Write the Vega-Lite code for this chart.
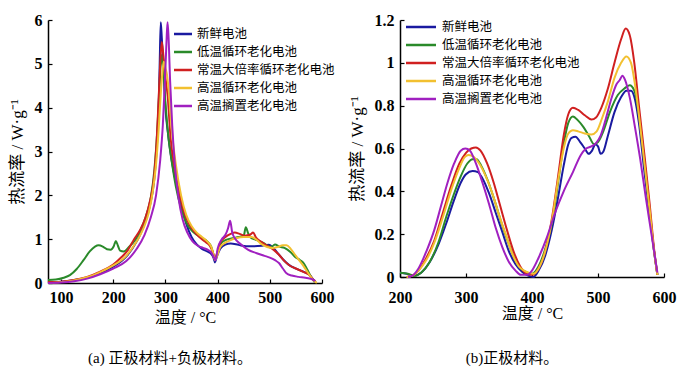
{
"$schema": "https://vega.github.io/schema/vega-lite/v6.json",
"background": "white",
"padding": {"left": 8, "top": 12, "right": 5, "bottom": 5},
"datasets": {
"a": [
{"s":"新鲜电池","t":75,"v":0.02},{"s":"新鲜电池","t":100,"v":0.03},{"s":"新鲜电池","t":125,"v":0.07},{"s":"新鲜电池","t":150,"v":0.12},{"s":"新鲜电池","t":175,"v":0.22},{"s":"新鲜电池","t":200,"v":0.37},{"s":"新鲜电池","t":225,"v":0.6},{"s":"新鲜电池","t":245,"v":0.95},{"s":"新鲜电池","t":260,"v":1.35},{"s":"新鲜电池","t":270,"v":1.75},{"s":"新鲜电池","t":278,"v":2.3},{"s":"新鲜电池","t":283,"v":3.0},{"s":"新鲜电池","t":287,"v":4.0},{"s":"新鲜电池","t":289,"v":5.0},{"s":"新鲜电池","t":291,"v":5.95},{"s":"新鲜电池","t":293,"v":5.6},{"s":"新鲜电池","t":296,"v":5.0},{"s":"新鲜电池","t":300,"v":4.0},{"s":"新鲜电池","t":305,"v":3.4},{"s":"新鲜电池","t":312,"v":2.8},{"s":"新鲜电池","t":320,"v":2.3},{"s":"新鲜电池","t":330,"v":1.8},{"s":"新鲜电池","t":340,"v":1.35},{"s":"新鲜电池","t":350,"v":1.05},{"s":"新鲜电池","t":360,"v":0.88},{"s":"新鲜电池","t":370,"v":0.78},{"s":"新鲜电池","t":380,"v":0.72},{"s":"新鲜电池","t":388,"v":0.66},{"s":"新鲜电池","t":392,"v":0.58},{"s":"新鲜电池","t":395,"v":0.47},{"s":"新鲜电池","t":398,"v":0.58},{"s":"新鲜电池","t":405,"v":0.78},{"s":"新鲜电池","t":415,"v":0.88},{"s":"新鲜电池","t":425,"v":0.9},{"s":"新鲜电池","t":440,"v":0.87},{"s":"新鲜电池","t":455,"v":0.84},{"s":"新鲜电池","t":470,"v":0.84},{"s":"新鲜电池","t":485,"v":0.85},{"s":"新鲜电池","t":498,"v":0.87},{"s":"新鲜电池","t":508,"v":0.78},{"s":"新鲜电池","t":516,"v":0.67},{"s":"新鲜电池","t":526,"v":0.53},{"s":"新鲜电池","t":536,"v":0.42},{"s":"新鲜电池","t":546,"v":0.35},{"s":"新鲜电池","t":556,"v":0.3},{"s":"新鲜电池","t":566,"v":0.25},{"s":"新鲜电池","t":575,"v":0.2},{"s":"新鲜电池","t":582,"v":0.1},{"s":"新鲜电池","t":588,"v":0.02},
{"s":"低温循环老化电池","t":75,"v":0.07},{"s":"低温循环老化电池","t":90,"v":0.08},{"s":"低温循环老化电池","t":105,"v":0.12},{"s":"低温循环老化电池","t":117,"v":0.18},{"s":"低温循环老化电池","t":130,"v":0.32},{"s":"低温循环老化电池","t":143,"v":0.52},{"s":"低温循环老化电池","t":155,"v":0.72},{"s":"低温循环老化电池","t":165,"v":0.83},{"s":"低温循环老化电池","t":172,"v":0.86},{"s":"低温循环老化电池","t":180,"v":0.83},{"s":"低温循环老化电池","t":188,"v":0.77},{"s":"低温循环老化电池","t":195,"v":0.76},{"s":"低温循环老化电池","t":201,"v":0.84},{"s":"低温循环老化电池","t":205,"v":0.96},{"s":"低温循环老化电池","t":209,"v":0.85},{"s":"低温循环老化电池","t":213,"v":0.74},{"s":"低温循环老化电池","t":220,"v":0.72},{"s":"低温循环老化电池","t":230,"v":0.82},{"s":"低温循环老化电池","t":242,"v":0.98},{"s":"低温循环老化电池","t":252,"v":1.2},{"s":"低温循环老化电池","t":262,"v":1.5},{"s":"低温循环老化电池","t":272,"v":1.95},{"s":"低温循环老化电池","t":279,"v":2.6},{"s":"低温循环老化电池","t":284,"v":3.4},{"s":"低温循环老化电池","t":288,"v":4.3},{"s":"低温循环老化电池","t":291,"v":5.0},{"s":"低温循环老化电池","t":293,"v":5.2},{"s":"低温循环老化电池","t":296,"v":4.85},{"s":"低温循环老化电池","t":300,"v":4.1},{"s":"低温循环老化电池","t":306,"v":3.3},{"s":"低温循环老化电池","t":313,"v":2.7},{"s":"低温循环老化电池","t":320,"v":2.2},{"s":"低温循环老化电池","t":330,"v":1.7},{"s":"低温循环老化电池","t":340,"v":1.38},{"s":"低温循环老化电池","t":350,"v":1.2},{"s":"低温循环老化电池","t":360,"v":1.1},{"s":"低温循环老化电池","t":370,"v":1.02},{"s":"低温循环老化电池","t":380,"v":0.95},{"s":"低温循环老化电池","t":388,"v":0.82},{"s":"低温循环老化电池","t":392,"v":0.65},{"s":"低温循环老化电池","t":395,"v":0.53},{"s":"低温循环老化电池","t":398,"v":0.62},{"s":"低温循环老化电池","t":405,"v":0.88},{"s":"低温循环老化电池","t":415,"v":0.98},{"s":"低温循环老化电池","t":428,"v":1.02},{"s":"低温循环老化电池","t":440,"v":1.05},{"s":"低温循环老化电池","t":450,"v":1.08},{"s":"低温循环老化电池","t":454,"v":1.27},{"s":"低温循环老化电池","t":458,"v":1.15},{"s":"低温循环老化电池","t":462,"v":1.05},{"s":"低温循环老化电池","t":475,"v":0.98},{"s":"低温循环老化电池","t":490,"v":0.9},{"s":"低温循环老化电池","t":500,"v":0.82},{"s":"低温循环老化电池","t":505,"v":0.84},{"s":"低温循环老化电池","t":510,"v":0.88},{"s":"低温循环老化电池","t":518,"v":0.83},{"s":"低温循环老化电池","t":528,"v":0.8},{"s":"低温循环老化电池","t":540,"v":0.7},{"s":"低温循环老化电池","t":548,"v":0.6},{"s":"低温循环老化电池","t":558,"v":0.52},{"s":"低温循环老化电池","t":565,"v":0.45},{"s":"低温循环老化电池","t":572,"v":0.3},{"s":"低温循环老化电池","t":580,"v":0.12},{"s":"低温循环老化电池","t":586,"v":0.02},
{"s":"常温大倍率循环老化电池","t":75,"v":0.02},{"s":"常温大倍率循环老化电池","t":100,"v":0.03},{"s":"常温大倍率循环老化电池","t":125,"v":0.07},{"s":"常温大倍率循环老化电池","t":150,"v":0.14},{"s":"常温大倍率循环老化电池","t":175,"v":0.26},{"s":"常温大倍率循环老化电池","t":200,"v":0.42},{"s":"常温大倍率循环老化电池","t":215,"v":0.58},{"s":"常温大倍率循环老化电池","t":228,"v":0.75},{"s":"常温大倍率循环老化电池","t":240,"v":1.0},{"s":"常温大倍率循环老化电池","t":252,"v":1.22},{"s":"常温大倍率循环老化电池","t":262,"v":1.5},{"s":"常温大倍率循环老化电池","t":270,"v":1.85},{"s":"常温大倍率循环老化电池","t":278,"v":2.4},{"s":"常温大倍率循环老化电池","t":283,"v":3.2},{"s":"常温大倍率循环老化电池","t":287,"v":4.2},{"s":"常温大倍率循环老化电池","t":290,"v":5.0},{"s":"常温大倍率循环老化电池","t":293,"v":5.5},{"s":"常温大倍率循环老化电池","t":296,"v":5.2},{"s":"常温大倍率循环老化电池","t":300,"v":4.7},{"s":"常温大倍率循环老化电池","t":304,"v":4.3},{"s":"常温大倍率循环老化电池","t":310,"v":3.3},{"s":"常温大倍率循环老化电池","t":318,"v":2.6},{"s":"常温大倍率循环老化电池","t":326,"v":2.1},{"s":"常温大倍率循环老化电池","t":335,"v":1.65},{"s":"常温大倍率循环老化电池","t":345,"v":1.35},{"s":"常温大倍率循环老化电池","t":355,"v":1.18},{"s":"常温大倍率循环老化电池","t":365,"v":1.05},{"s":"常温大倍率循环老化电池","t":375,"v":0.95},{"s":"常温大倍率循环老化电池","t":385,"v":0.85},{"s":"常温大倍率循环老化电池","t":391,"v":0.7},{"s":"常温大倍率循环老化电池","t":395,"v":0.55},{"s":"常温大倍率循环老化电池","t":399,"v":0.68},{"s":"常温大倍率循环老化电池","t":405,"v":0.92},{"s":"常温大倍率循环老化电池","t":415,"v":1.05},{"s":"常温大倍率循环老化电池","t":425,"v":1.12},{"s":"常温大倍率循环老化电池","t":433,"v":1.15},{"s":"常温大倍率循环老化电池","t":442,"v":1.12},{"s":"常温大倍率循环老化电池","t":452,"v":1.08},{"s":"常温大倍率循环老化电池","t":462,"v":1.1},{"s":"常温大倍率循环老化电池","t":468,"v":1.15},{"s":"常温大倍率循环老化电池","t":473,"v":1.05},{"s":"常温大倍率循环老化电池","t":482,"v":0.95},{"s":"常温大倍率循环老化电池","t":495,"v":0.85},{"s":"常温大倍率循环老化电池","t":508,"v":0.75},{"s":"常温大倍率循环老化电池","t":518,"v":0.64},{"s":"常温大倍率循环老化电池","t":528,"v":0.5},{"s":"常温大倍率循环老化电池","t":538,"v":0.4},{"s":"常温大倍率循环老化电池","t":552,"v":0.32},{"s":"常温大倍率循环老化电池","t":565,"v":0.25},{"s":"常温大倍率循环老化电池","t":576,"v":0.18},{"s":"常温大倍率循环老化电池","t":583,"v":0.08},{"s":"常温大倍率循环老化电池","t":588,"v":0.02},
{"s":"高温循环老化电池","t":75,"v":0.0},{"s":"高温循环老化电池","t":100,"v":0.02},{"s":"高温循环老化电池","t":125,"v":0.06},{"s":"高温循环老化电池","t":150,"v":0.13},{"s":"高温循环老化电池","t":175,"v":0.25},{"s":"高温循环老化电池","t":200,"v":0.4},{"s":"高温循环老化电池","t":225,"v":0.62},{"s":"高温循环老化电池","t":245,"v":0.95},{"s":"高温循环老化电池","t":258,"v":1.25},{"s":"高温循环老化电池","t":268,"v":1.6},{"s":"高温循环老化电池","t":276,"v":2.1},{"s":"高温循环老化电池","t":282,"v":2.7},{"s":"高温循环老化电池","t":287,"v":3.5},{"s":"高温循环老化电池","t":291,"v":4.3},{"s":"高温循环老化电池","t":295,"v":4.9},{"s":"高温循环老化电池","t":297,"v":5.05},{"s":"高温循环老化电池","t":300,"v":4.9},{"s":"高温循环老化电池","t":303,"v":4.75},{"s":"高温循环老化电池","t":307,"v":4.3},{"s":"高温循环老化电池","t":312,"v":3.5},{"s":"高温循环老化电池","t":320,"v":2.7},{"s":"高温循环老化电池","t":330,"v":2.0},{"s":"高温循环老化电池","t":340,"v":1.55},{"s":"高温循环老化电池","t":350,"v":1.3},{"s":"高温循环老化电池","t":360,"v":1.15},{"s":"高温循环老化电池","t":370,"v":1.05},{"s":"高温循环老化电池","t":380,"v":0.95},{"s":"高温循环老化电池","t":388,"v":0.82},{"s":"高温循环老化电池","t":392,"v":0.65},{"s":"高温循环老化电池","t":395,"v":0.52},{"s":"高温循环老化电池","t":399,"v":0.62},{"s":"高温循环老化电池","t":405,"v":0.82},{"s":"高温循环老化电池","t":415,"v":0.92},{"s":"高温循环老化电池","t":425,"v":0.98},{"s":"高温循环老化电池","t":435,"v":1.02},{"s":"高温循环老化电池","t":450,"v":1.05},{"s":"高温循环老化电池","t":465,"v":1.05},{"s":"高温循环老化电池","t":475,"v":0.98},{"s":"高温循环老化电池","t":485,"v":0.88},{"s":"高温循环老化电池","t":495,"v":0.82},{"s":"高温循环老化电池","t":505,"v":0.8},{"s":"高温循环老化电池","t":515,"v":0.82},{"s":"高温循环老化电池","t":525,"v":0.86},{"s":"高温循环老化电池","t":532,"v":0.86},{"s":"高温循环老化电池","t":540,"v":0.78},{"s":"高温循环老化电池","t":548,"v":0.65},{"s":"高温循环老化电池","t":556,"v":0.52},{"s":"高温循环老化电池","t":565,"v":0.38},{"s":"高温循环老化电池","t":575,"v":0.2},{"s":"高温循环老化电池","t":583,"v":0.07},{"s":"高温循环老化电池","t":590,"v":0.0},
{"s":"高温搁置老化电池","t":75,"v":0.0},{"s":"高温搁置老化电池","t":100,"v":0.01},{"s":"高温搁置老化电池","t":125,"v":0.04},{"s":"高温搁置老化电池","t":150,"v":0.1},{"s":"高温搁置老化电池","t":175,"v":0.2},{"s":"高温搁置老化电池","t":200,"v":0.33},{"s":"高温搁置老化电池","t":225,"v":0.5},{"s":"高温搁置老化电池","t":245,"v":0.78},{"s":"高温搁置老化电池","t":260,"v":1.1},{"s":"高温搁置老化电池","t":272,"v":1.5},{"s":"高温搁置老化电池","t":282,"v":2.0},{"s":"高温搁置老化电池","t":290,"v":2.8},{"s":"高温搁置老化电池","t":295,"v":3.6},{"s":"高温搁置老化电池","t":299,"v":4.6},{"s":"高温搁置老化电池","t":302,"v":5.5},{"s":"高温搁置老化电池","t":304,"v":5.95},{"s":"高温搁置老化电池","t":306,"v":5.6},{"s":"高温搁置老化电池","t":309,"v":4.6},{"s":"高温搁置老化电池","t":313,"v":3.6},{"s":"高温搁置老化电池","t":318,"v":2.7},{"s":"高温搁置老化电池","t":325,"v":1.95},{"s":"高温搁置老化电池","t":333,"v":1.45},{"s":"高温搁置老化电池","t":342,"v":1.15},{"s":"高温搁置老化电池","t":352,"v":0.95},{"s":"高温搁置老化电池","t":362,"v":0.85},{"s":"高温搁置老化电池","t":372,"v":0.8},{"s":"高温搁置老化电池","t":382,"v":0.75},{"s":"高温搁置老化电池","t":389,"v":0.68},{"s":"高温搁置老化电池","t":393,"v":0.58},{"s":"高温搁置老化电池","t":396,"v":0.52},{"s":"高温搁置老化电池","t":400,"v":0.78},{"s":"高温搁置老化电池","t":408,"v":1.0},{"s":"高温搁置老化电池","t":415,"v":1.1},{"s":"高温搁置老化电池","t":420,"v":1.25},{"s":"高温搁置老化电池","t":424,"v":1.42},{"s":"高温搁置老化电池","t":428,"v":1.15},{"s":"高温搁置老化电池","t":433,"v":1.02},{"s":"高温搁置老化电池","t":445,"v":0.88},{"s":"高温搁置老化电池","t":458,"v":0.76},{"s":"高温搁置老化电池","t":475,"v":0.68},{"s":"高温搁置老化电池","t":490,"v":0.62},{"s":"高温搁置老化电池","t":500,"v":0.58},{"s":"高温搁置老化电池","t":510,"v":0.52},{"s":"高温搁置老化电池","t":518,"v":0.45},{"s":"高温搁置老化电池","t":525,"v":0.33},{"s":"高温搁置老化电池","t":532,"v":0.22},{"s":"高温搁置老化电池","t":542,"v":0.17},{"s":"高温搁置老化电池","t":555,"v":0.14},{"s":"高温搁置老化电池","t":568,"v":0.12},{"s":"高温搁置老化电池","t":580,"v":0.09},{"s":"高温搁置老化电池","t":587,"v":0.05}
],
"b": [
{"s":"新鲜电池","t":200,"v":0.02},{"s":"新鲜电池","t":210,"v":0.015},{"s":"新鲜电池","t":220,"v":0.005},{"s":"新鲜电池","t":232,"v":0.02},{"s":"新鲜电池","t":245,"v":0.07},{"s":"新鲜电池","t":258,"v":0.15},{"s":"新鲜电池","t":270,"v":0.25},{"s":"新鲜电池","t":282,"v":0.36},{"s":"新鲜电池","t":292,"v":0.44},{"s":"新鲜电池","t":300,"v":0.48},{"s":"新鲜电池","t":310,"v":0.495},{"s":"新鲜电池","t":318,"v":0.49},{"s":"新鲜电池","t":325,"v":0.46},{"s":"新鲜电池","t":335,"v":0.39},{"s":"新鲜电池","t":345,"v":0.3},{"s":"新鲜电池","t":355,"v":0.21},{"s":"新鲜电池","t":365,"v":0.12},{"s":"新鲜电池","t":375,"v":0.06},{"s":"新鲜电池","t":385,"v":0.025},{"s":"新鲜电池","t":395,"v":0.005},{"s":"新鲜电池","t":402,"v":0.0},{"s":"新鲜电池","t":410,"v":0.03},{"s":"新鲜电池","t":420,"v":0.1},{"s":"新鲜电池","t":430,"v":0.22},{"s":"新鲜电池","t":440,"v":0.38},{"s":"新鲜电池","t":448,"v":0.52},{"s":"新鲜电池","t":455,"v":0.62},{"s":"新鲜电池","t":460,"v":0.65},{"s":"新鲜电池","t":466,"v":0.655},{"s":"新鲜电池","t":473,"v":0.63},{"s":"新鲜电池","t":480,"v":0.6},{"s":"新鲜电池","t":486,"v":0.575},{"s":"新鲜电池","t":491,"v":0.59},{"s":"新鲜电池","t":496,"v":0.62},{"s":"新鲜电池","t":500,"v":0.61},{"s":"新鲜电池","t":504,"v":0.575},{"s":"新鲜电池","t":508,"v":0.585},{"s":"新鲜电池","t":515,"v":0.66},{"s":"新鲜电池","t":525,"v":0.77},{"s":"新鲜电池","t":535,"v":0.84},{"s":"新鲜电池","t":543,"v":0.87},{"s":"新鲜电池","t":550,"v":0.87},{"s":"新鲜电池","t":556,"v":0.83},{"s":"新鲜电池","t":562,"v":0.72},{"s":"新鲜电池","t":570,"v":0.5},{"s":"新鲜电池","t":578,"v":0.3},{"s":"新鲜电池","t":585,"v":0.12},{"s":"新鲜电池","t":590,"v":0.01},
{"s":"低温循环老化电池","t":200,"v":0.02},{"s":"低温循环老化电池","t":212,"v":0.015},{"s":"低温循环老化电池","t":222,"v":0.005},{"s":"低温循环老化电池","t":232,"v":0.02},{"s":"低温循环老化电池","t":245,"v":0.07},{"s":"低温循环老化电池","t":258,"v":0.16},{"s":"低温循环老化电池","t":270,"v":0.28},{"s":"低温循环老化电池","t":282,"v":0.39},{"s":"低温循环老化电池","t":292,"v":0.47},{"s":"低温循环老化电池","t":302,"v":0.53},{"s":"低温循环老化电池","t":310,"v":0.55},{"s":"低温循环老化电池","t":316,"v":0.55},{"s":"低温循环老化电池","t":323,"v":0.52},{"s":"低温循环老化电池","t":333,"v":0.45},{"s":"低温循环老化电池","t":343,"v":0.36},{"s":"低温循环老化电池","t":353,"v":0.26},{"s":"低温循环老化电池","t":363,"v":0.17},{"s":"低温循环老化电池","t":373,"v":0.09},{"s":"低温循环老化电池","t":383,"v":0.04},{"s":"低温循环老化电池","t":393,"v":0.02},{"s":"低温循环老化电池","t":400,"v":0.015},{"s":"低温循环老化电池","t":410,"v":0.05},{"s":"低温循环老化电池","t":420,"v":0.13},{"s":"低温循环老化电池","t":430,"v":0.25},{"s":"低温循环老化电池","t":440,"v":0.45},{"s":"低温循环老化电池","t":448,"v":0.62},{"s":"低温循环老化电池","t":455,"v":0.72},{"s":"低温循环老化电池","t":462,"v":0.75},{"s":"低温循环老化电池","t":470,"v":0.73},{"s":"低温循环老化电池","t":478,"v":0.7},{"s":"低温循环老化电池","t":486,"v":0.66},{"s":"低温循环老化电池","t":494,"v":0.62},{"s":"低温循环老化电池","t":500,"v":0.63},{"s":"低温循环老化电池","t":508,"v":0.68},{"s":"低温循环老化电池","t":518,"v":0.77},{"s":"低温循环老化电池","t":530,"v":0.85},{"s":"低温循环老化电池","t":540,"v":0.88},{"s":"低温循环老化电池","t":548,"v":0.895},{"s":"低温循环老化电池","t":555,"v":0.87},{"s":"低温循环老化电池","t":562,"v":0.76},{"s":"低温循环老化电池","t":570,"v":0.55},{"s":"低温循环老化电池","t":578,"v":0.32},{"s":"低温循环老化电池","t":585,"v":0.12},{"s":"低温循环老化电池","t":590,"v":0.01},
{"s":"常温大倍率循环老化电池","t":210,"v":0.0},{"s":"常温大倍率循环老化电池","t":218,"v":0.005},{"s":"常温大倍率循环老化电池","t":228,"v":0.03},{"s":"常温大倍率循环老化电池","t":240,"v":0.09},{"s":"常温大倍率循环老化电池","t":252,"v":0.17},{"s":"常温大倍率循环老化电池","t":265,"v":0.3},{"s":"常温大倍率循环老化电池","t":278,"v":0.43},{"s":"常温大倍率循环老化电池","t":290,"v":0.53},{"s":"常温大倍率循环老化电池","t":300,"v":0.58},{"s":"常温大倍率循环老化电池","t":308,"v":0.6},{"s":"常温大倍率循环老化电池","t":315,"v":0.605},{"s":"常温大倍率循环老化电池","t":322,"v":0.59},{"s":"常温大倍率循环老化电池","t":332,"v":0.53},{"s":"常温大倍率循环老化电池","t":342,"v":0.44},{"s":"常温大倍率循环老化电池","t":352,"v":0.33},{"s":"常温大倍率循环老化电池","t":362,"v":0.22},{"s":"常温大倍率循环老化电池","t":372,"v":0.12},{"s":"常温大倍率循环老化电池","t":382,"v":0.05},{"s":"常温大倍率循环老化电池","t":392,"v":0.015},{"s":"常温大倍率循环老化电池","t":400,"v":0.01},{"s":"常温大倍率循环老化电池","t":410,"v":0.04},{"s":"常温大倍率循环老化电池","t":420,"v":0.12},{"s":"常温大倍率循环老化电池","t":430,"v":0.27},{"s":"常温大倍率循环老化电池","t":440,"v":0.48},{"s":"常温大倍率循环老化电池","t":448,"v":0.66},{"s":"常温大倍率循环老化电池","t":455,"v":0.76},{"s":"常温大倍率循环老化电池","t":462,"v":0.79},{"s":"常温大倍率循环老化电池","t":470,"v":0.78},{"s":"常温大倍率循环老化电池","t":480,"v":0.755},{"s":"常温大倍率循环老化电池","t":490,"v":0.735},{"s":"常温大倍率循环老化电池","t":497,"v":0.745},{"s":"常温大倍率循环老化电池","t":505,"v":0.79},{"s":"常温大倍率循环老化电池","t":515,"v":0.88},{"s":"常温大倍率循环老化电池","t":525,"v":1.0},{"s":"常温大倍率循环老化电池","t":535,"v":1.11},{"s":"常温大倍率循环老化电池","t":542,"v":1.16},{"s":"常温大倍率循环老化电池","t":548,"v":1.13},{"s":"常温大倍率循环老化电池","t":555,"v":1.0},{"s":"常温大倍率循环老化电池","t":562,"v":0.8},{"s":"常温大倍率循环老化电池","t":570,"v":0.58},{"s":"常温大倍率循环老化电池","t":578,"v":0.35},{"s":"常温大倍率循环老化电池","t":585,"v":0.13},{"s":"常温大倍率循环老化电池","t":590,"v":0.01},
{"s":"高温循环老化电池","t":210,"v":0.0},{"s":"高温循环老化电池","t":218,"v":0.005},{"s":"高温循环老化电池","t":228,"v":0.03},{"s":"高温循环老化电池","t":240,"v":0.08},{"s":"高温循环老化电池","t":252,"v":0.16},{"s":"高温循环老化电池","t":265,"v":0.28},{"s":"高温循环老化电池","t":278,"v":0.41},{"s":"高温循环老化电池","t":290,"v":0.51},{"s":"高温循环老化电池","t":298,"v":0.56},{"s":"高温循环老化电池","t":304,"v":0.57},{"s":"高温循环老化电池","t":312,"v":0.56},{"s":"高温循环老化电池","t":320,"v":0.53},{"s":"高温循环老化电池","t":330,"v":0.47},{"s":"高温循环老化电池","t":340,"v":0.39},{"s":"高温循环老化电池","t":350,"v":0.29},{"s":"高温循环老化电池","t":360,"v":0.2},{"s":"高温循环老化电池","t":370,"v":0.11},{"s":"高温循环老化电池","t":380,"v":0.05},{"s":"高温循环老化电池","t":388,"v":0.03},{"s":"高温循环老化电池","t":395,"v":0.02},{"s":"高温循环老化电池","t":402,"v":0.015},{"s":"高温循环老化电池","t":410,"v":0.04},{"s":"高温循环老化电池","t":420,"v":0.12},{"s":"高温循环老化电池","t":430,"v":0.26},{"s":"高温循环老化电池","t":440,"v":0.46},{"s":"高温循环老化电池","t":448,"v":0.6},{"s":"高温循环老化电池","t":455,"v":0.67},{"s":"高温循环老化电池","t":462,"v":0.685},{"s":"高温循环老化电池","t":470,"v":0.68},{"s":"高温循环老化电池","t":480,"v":0.67},{"s":"高温循环老化电池","t":490,"v":0.665},{"s":"高温循环老化电池","t":498,"v":0.68},{"s":"高温循环老化电池","t":506,"v":0.74},{"s":"高温循环老化电池","t":515,"v":0.82},{"s":"高温循环老化电池","t":525,"v":0.93},{"s":"高温循环老化电池","t":535,"v":1.0},{"s":"高温循环老化电池","t":543,"v":1.03},{"s":"高温循环老化电池","t":550,"v":1.0},{"s":"高温循环老化电池","t":556,"v":0.9},{"s":"高温循环老化电池","t":563,"v":0.73},{"s":"高温循环老化电池","t":570,"v":0.54},{"s":"高温循环老化电池","t":578,"v":0.32},{"s":"高温循环老化电池","t":585,"v":0.12},{"s":"高温循环老化电池","t":590,"v":0.01},
{"s":"高温搁置老化电池","t":212,"v":0.0},{"s":"高温搁置老化电池","t":218,"v":0.005},{"s":"高温搁置老化电池","t":228,"v":0.04},{"s":"高温搁置老化电池","t":240,"v":0.12},{"s":"高温搁置老化电池","t":252,"v":0.22},{"s":"高温搁置老化电池","t":262,"v":0.33},{"s":"高温搁置老化电池","t":272,"v":0.44},{"s":"高温搁置老化电池","t":282,"v":0.53},{"s":"高温搁置老化电池","t":292,"v":0.59},{"s":"高温搁置老化电池","t":299,"v":0.6},{"s":"高温搁置老化电池","t":306,"v":0.59},{"s":"高温搁置老化电池","t":315,"v":0.53},{"s":"高温搁置老化电池","t":325,"v":0.44},{"s":"高温搁置老化电池","t":335,"v":0.34},{"s":"高温搁置老化电池","t":345,"v":0.23},{"s":"高温搁置老化电池","t":355,"v":0.14},{"s":"高温搁置老化电池","t":365,"v":0.07},{"s":"高温搁置老化电池","t":375,"v":0.03},{"s":"高温搁置老化电池","t":383,"v":0.01},{"s":"高温搁置老化电池","t":392,"v":0.01},{"s":"高温搁置老化电池","t":400,"v":0.03},{"s":"高温搁置老化电池","t":410,"v":0.09},{"s":"高温搁置老化电池","t":422,"v":0.18},{"s":"高温搁置老化电池","t":435,"v":0.3},{"s":"高温搁置老化电池","t":448,"v":0.4},{"s":"高温搁置老化电池","t":462,"v":0.49},{"s":"高温搁置老化电池","t":474,"v":0.57},{"s":"高温搁置老化电池","t":482,"v":0.6},{"s":"高温搁置老化电池","t":490,"v":0.61},{"s":"高温搁置老化电池","t":497,"v":0.625},{"s":"高温搁置老化电池","t":504,"v":0.66},{"s":"高温搁置老化电池","t":512,"v":0.74},{"s":"高温搁置老化电池","t":520,"v":0.83},{"s":"高温搁置老化电池","t":528,"v":0.9},{"s":"高温搁置老化电池","t":533,"v":0.92},{"s":"高温搁置老化电池","t":537,"v":0.94},{"s":"高温搁置老化电池","t":541,"v":0.92},{"s":"高温搁置老化电池","t":548,"v":0.84},{"s":"高温搁置老化电池","t":556,"v":0.7},{"s":"高温搁置老化电池","t":564,"v":0.55},{"s":"高温搁置老化电池","t":572,"v":0.38},{"s":"高温搁置老化电池","t":580,"v":0.22},{"s":"高温搁置老化电池","t":586,"v":0.1},{"s":"高温搁置老化电池","t":590,"v":0.02}
]
},
"config": {
  "view": {"stroke": null},
  "concat": {"spacing": 78},
  "axis": {"grid": false, "labelFlush": false, "domainColor": "black", "domainWidth": 1.5, "tickColor": "black", "tickWidth": 1.2, "tickSize": -4, "labelPadding": 10, "labelFont": "Liberation Serif", "labelFontWeight": "bold", "labelFontSize": 16, "labelColor": "black", "titleFont": "Liberation Serif, Noto Sans CJK SC", "titleFontSize": 16, "titleFontWeight": "normal", "titleColor": "black"},
  "axisY": {"titleFontSize": 17},
  "legend": {"orient": "none", "symbolStrokeWidth": 2.5, "symbolSize": 225, "labelFont": "Noto Sans CJK SC", "labelFontSize": 12.5, "labelColor": "black", "rowPadding": 2, "title": null},
  "title": {"font": "Liberation Serif, Noto Sans CJK SC", "fontSize": 15, "fontWeight": "normal", "color": "black", "orient": "bottom", "offset": 26}
},
"bounds": "flush",
"resolve": {"scale": {"color": "independent"}, "legend": {"color": "independent"}},
"hconcat": [
{
  "width": 274, "height": 263,
  "data": {"name": "a"},
  "title": {"text": "(a)  正极材料+负极材料。", "dx": -15},
  "mark": {"type": "line", "strokeWidth": 2, "interpolate": "monotone"},
  "encoding": {
    "x": {"field": "t", "type": "quantitative", "scale": {"domain": [75, 600], "nice": false, "zero": false}, "axis": {"values": [100, 200, 300, 400, 500, 600], "title": "温度 / °C", "titlePadding": 4}},
    "y": {"field": "v", "type": "quantitative", "scale": {"domain": [0, 6], "nice": false}, "axis": {"values": [0, 1, 2, 3, 4, 5, 6], "title": "热流率 / W·g⁻¹", "titlePadding": 8}},
    "color": {"field": "s", "type": "nominal", "scale": {"domain": ["新鲜电池", "低温循环老化电池", "常温大倍率循环老化电池", "高温循环老化电池", "高温搁置老化电池"], "range": ["#1a1aa0", "#2a8a2a", "#d02020", "#f2c030", "#a020c0"]}, "legend": {"legendX": 126, "legendY": 5, "symbolType": "M-1.2,0H1.2", "labelOffset": 5}}
  }
},
{
  "width": 264, "height": 257,
  "data": {"name": "b"},
  "title": {"text": "(b)正极材料。", "dx": -20, "offset": 30},
  "mark": {"type": "line", "strokeWidth": 2, "interpolate": "monotone"},
  "encoding": {
    "x": {"field": "t", "type": "quantitative", "scale": {"domain": [200, 600], "nice": false, "zero": false}, "axis": {"values": [200, 300, 400, 500, 600], "title": "温度 / °C", "titlePadding": 0, "labelPadding": 16}},
    "y": {"field": "v", "type": "quantitative", "scale": {"domain": [0, 1.2], "nice": false}, "axis": {"values": [0, 0.2, 0.4, 0.6, 0.8, 1, 1.2], "format": "~g", "title": "热流率 / W·g⁻¹", "titlePadding": 8}},
    "color": {"field": "s", "type": "nominal", "scale": {"domain": ["新鲜电池", "低温循环老化电池", "常温大倍率循环老化电池", "高温循环老化电池", "高温搁置老化电池"], "range": ["#1a1aa0", "#2a8a2a", "#d02020", "#f2c030", "#a020c0"]}, "legend": {"legendX": 12, "legendY": -2, "symbolType": "M-2,0H2", "labelOffset": 12}}
  }
}
]
}
